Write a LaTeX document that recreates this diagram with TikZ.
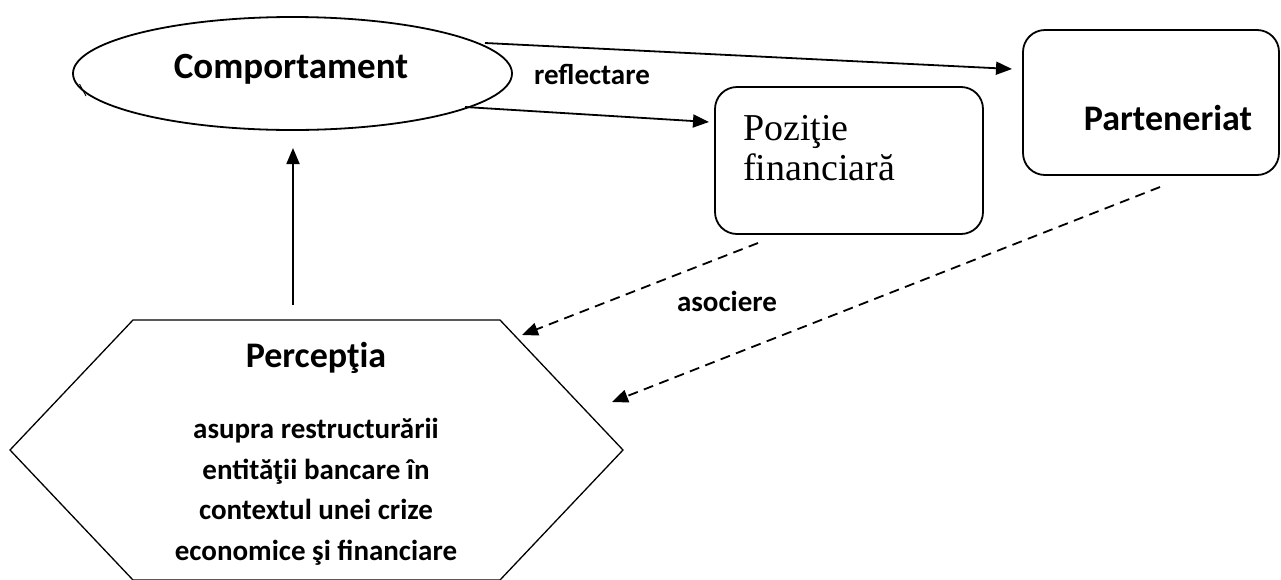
\documentclass[tikz,border=0pt]{standalone}
\usepackage{fontspec}
\setmainfont{Carlito}
\newfontfamily\serifface{Liberation Serif}
\usetikzlibrary{shapes.geometric,arrows.meta}
\begin{document}
\begin{tikzpicture}[x=1pt,y=-1pt,
  shapeline/.style={draw=black,line width=1.8pt},
  conn/.style={line width=1.8pt,-{Triangle[length=16pt,width=13pt]}},
  dconn/.style={conn,dash pattern=on 10pt off 6.5pt},
  bigtxt/.style={font=\bfseries\fontsize{37}{44}\selectfont,inner sep=0pt},
  midtxt/.style={font=\bfseries\fontsize{36}{43}\selectfont,inner sep=0pt},
  smalltxt/.style={font=\bfseries\fontsize{29}{35}\selectfont,inner sep=0pt},
  sertxt/.style={font=\serifface\fontsize{38}{40}\selectfont,inner sep=0pt}]
\useasboundingbox (0,0) rectangle (1281,579);
% shapes
\node[shapeline,ellipse,minimum width=439pt,minimum height=113pt,inner sep=0pt] (comp) at (292.5,73.5) {};
\draw[line width=0.9pt] (79.5,84) -- (86,96);
\node[bigtxt,anchor=base] (comptxt) at (291,78) {Comportament};
\node[shapeline,rounded corners=22pt,minimum width=268pt,minimum height=147pt,inner sep=0pt] (poz) at (849,160.5) {};
\node[sertxt,anchor=base west] (poz1) at (743,140) {Poziţie};
\node[sertxt,anchor=base west] (poz2) at (743,180) {financiară};
\node[shapeline,rounded corners=22pt,minimum width=256pt,minimum height=145pt,inner sep=0pt] (part) at (1151,102.5) {};
\node[midtxt,anchor=base] (parttxt) at (1168,130) {Parteneriat};
% hexagon
\coordinate (h1) at (133,320);
\coordinate (h2) at (500,320);
\coordinate (h3) at (623,450);
\coordinate (h4) at (500,580);
\coordinate (h5) at (133,580);
\coordinate (h6) at (10,450);
\draw[line width=1.3pt,line join=miter] (h1) -- (h2) -- (h3) -- (h4) -- (h5) -- (h6) -- cycle;
\node[midtxt,anchor=base] (perc) at (316,367) {Percepţia};
\node[smalltxt,anchor=base] (l1) at (316,438) {asupra restructurării};
\node[smalltxt,anchor=base] (l2) at (316,479) {entităţii bancare în};
\node[smalltxt,anchor=base] (l3) at (316,519) {contextul unei crize};
\node[smalltxt,anchor=base] (l4) at (316,560) {economice şi financiare};
% labels
\node[smalltxt] (refl) at (592,74) {reflectare};
\node[smalltxt] (asoc) at (727,301) {asociere};
% connector end points
\coordinate (a1s) at (485,43);
\coordinate (a1e) at (1012,69);
\coordinate (a2s) at (465,107);
\coordinate (a2e) at (709,122);
\coordinate (a3s) at (293,305);
\coordinate (a3e) at (293,148);
\coordinate (a4s) at (758,243);
\coordinate (a4e) at (522,335);
\coordinate (a5s) at (1160,187);
\coordinate (a5e) at (612,402);
\draw[conn] (a1s) -- (a1e);
\draw[conn] (a2s) -- (a2e);
\draw[conn] (a3s) -- (a3e);
\draw[dconn] (a4s) -- (a4e);
\draw[dconn] (a5s) -- (a5e);
\end{tikzpicture}
\end{document}
